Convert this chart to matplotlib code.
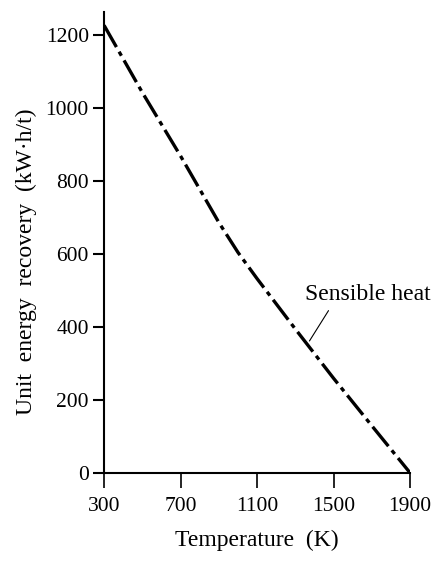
import matplotlib
matplotlib.use("Agg")
import matplotlib.pyplot as plt

temperature = [300, 500, 700, 900, 1000, 1100, 1300, 1500, 1700, 1900]
energy = [1226, 1042, 868, 686, 604, 532, 394, 259, 129, 0]
x_ticks = [300, 700, 1100, 1500, 1900]
y_ticks = [0, 200, 400, 600, 800, 1000, 1200]

plt.rcParams['font.family'] = ['Liberation Serif', 'DejaVu Serif']

fig = plt.figure(figsize=(4.41, 5.63), dpi=100)
ax = fig.add_axes([0.236, 0.160, 0.694, 0.819])

ax.plot(temperature, energy, color='black', lw=2.4,
        dashes=(7.5, 1.6, 1.4, 1.6), solid_capstyle='butt', dash_capstyle='butt')

ax.set_xlim(300, 1900)
ax.set_ylim(0, 1263)
ax.set_xticks(x_ticks)
ax.set_yticks(y_ticks)

for s in ['top', 'right']:
    ax.spines[s].set_visible(False)
for s in ['left', 'bottom']:
    ax.spines[s].set_linewidth(1.5)

ax.tick_params(axis='y', direction='out', length=8, width=1.5, labelsize=15.5, pad=3)
ax.tick_params(axis='x', direction='out', length=11, width=1.2, labelsize=15.5, pad=6)

ax.set_xlabel('Temperature  (K)', fontsize=17, labelpad=10)
ax.set_ylabel('Unit  energy  recovery  (kW\u00b7h/t)', fontsize=17, labelpad=6)
ax.yaxis.label.set_y(0.457)

ax.annotate('', xy=(1366, 355), xytext=(1481, 451),
            arrowprops=dict(arrowstyle='-', lw=0.8, color='black'))
ax.text(1351, 488, 'Sensible heat', fontsize=17, va='center', ha='left')

fig.savefig('out.png', dpi=100)
